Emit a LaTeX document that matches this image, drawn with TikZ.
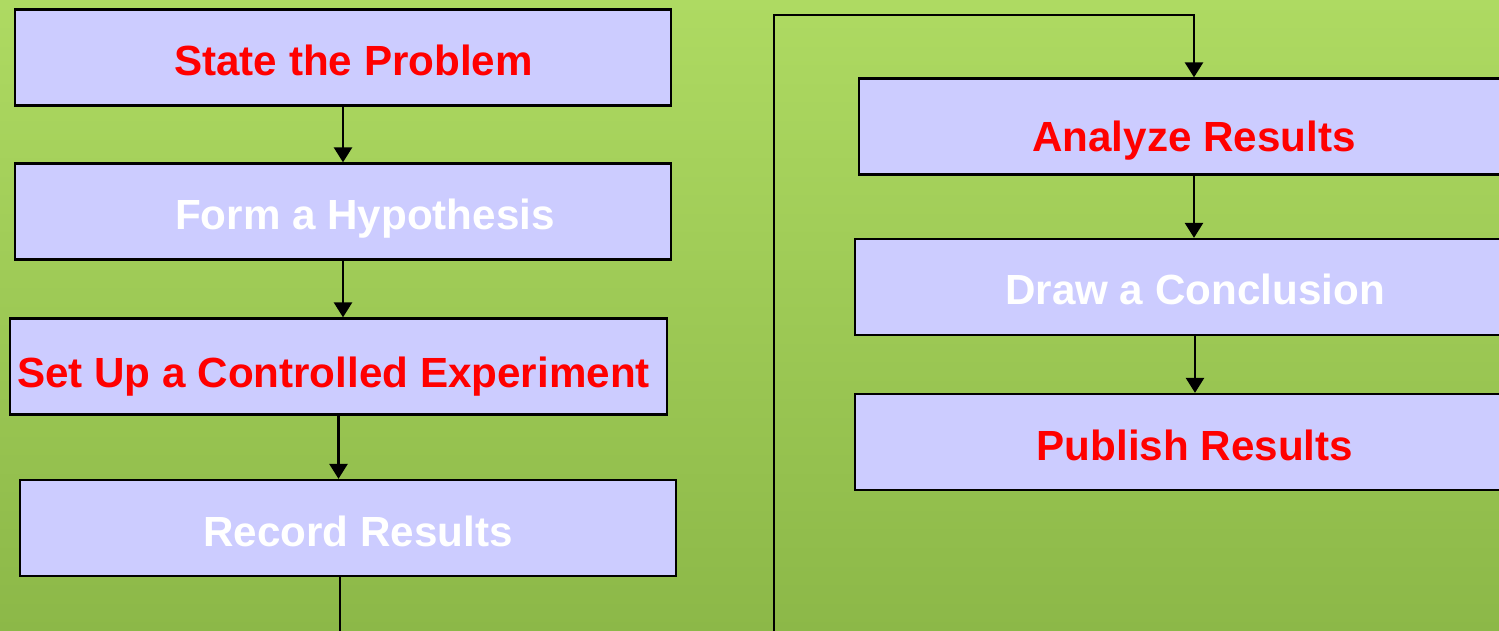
\documentclass[tikz,border=0pt]{standalone}
\usepackage{fontspec}
\setmainfont{Liberation Sans}
\usepackage{xcolor}
\definecolor{bgTop}{HTML}{AEDA62}
\definecolor{bgBottom}{HTML}{8CB848}
\definecolor{boxFill}{HTML}{CCCCFF}
\definecolor{textRed}{HTML}{FF0000}
\usetikzlibrary{arrows.meta}
\tikzset{
  stepbox/.style={draw=black, line width=1.3pt, fill=boxFill, inner sep=0pt,
    minimum height=1.92cm, text height=0.72cm, text depth=0cm,
    font=\fontsize{24}{28}\selectfont\bfseries},
  redlabel/.style={text=textRed},
  whitelabel/.style={text=white},
  nudge/.style={execute at begin node={\hspace*{#1}}},
  flow/.style={line width=1.5pt, -{Triangle[width=0.36cm,length=0.3cm]}},
  flowline/.style={line width=1.5pt}
}

\begin{document}
\begin{tikzpicture}
  \useasboundingbox (0cm,0cm) rectangle (29.98cm,-12.62cm);
  \clip (0cm,0cm) rectangle (29.98cm,-12.62cm);
  \shade[top color=bgTop, bottom color=bgBottom] (0cm,0cm) rectangle (29.98cm,-12.62cm);

  \node[stepbox, redlabel, nudge=0.42cm, minimum width=13.12cm] (state) at (6.86cm,-1.15cm) {State the Problem};
  \node[stepbox, whitelabel, nudge=0.88cm, minimum width=13.12cm] (hypothesis) at (6.86cm,-4.23cm) {Form a Hypothesis};
  \node[stepbox, redlabel, nudge=-0.2cm, text height=0.86cm, minimum width=13.14cm] (experiment) at (6.77cm,-7.33cm) {Set Up a Controlled Experiment};
  \node[stepbox, whitelabel, nudge=0.4cm, minimum width=13.12cm] (record) at (6.96cm,-10.56cm) {Record Results};

  \node[stepbox, redlabel, text height=1cm, minimum width=13.4cm] (analyze) at (23.88cm,-2.53cm) {Analyze Results};
  \node[stepbox, whitelabel, minimum width=13.6cm] (conclusion) at (23.9cm,-5.74cm) {Draw a Conclusion};
  \node[stepbox, redlabel, minimum width=13.6cm] (publish) at (23.9cm,-8.84cm) {Publish Results};

  \coordinate (loopout) at (6.8cm,-12.7cm);
  \coordinate (loopin) at (15.48cm,-12.7cm);
  \coordinate (looptop) at (23.88cm,-0.3cm);

  \draw[flow] (state.south) -- (hypothesis.north);
  \draw[flow] (hypothesis.south) -- (hypothesis.south |- experiment.north);
  \draw[flow] (experiment.south) -- (experiment.south |- record.north);
  \draw[flowline] (record.south -| loopout) -- (loopout);
  \draw[flow] (loopin) |- (looptop) -- (analyze.north);
  \draw[flow] (analyze.south) -- (analyze.south |- conclusion.north);
  \draw[flow] (conclusion.south) -- (conclusion.south |- publish.north);
\end{tikzpicture}
\end{document}
